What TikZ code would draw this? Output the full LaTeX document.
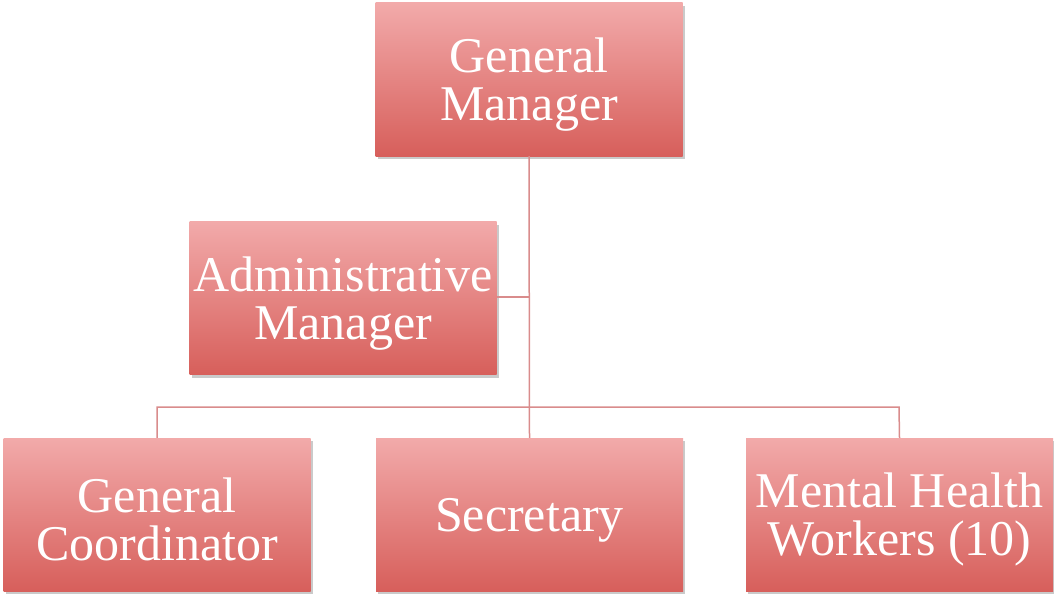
\documentclass[tikz,border=0pt]{standalone}
\usepackage{fontspec}
\setmainfont{Liberation Serif}
\usetikzlibrary{shadows}
\definecolor{boxtop}{HTML}{F2AAAA}
\definecolor{boxbot}{HTML}{D75F5B}
\definecolor{linec}{HTML}{D98C8C}
\newcommand{\tstrut}{\rule{0pt}{45pt}}
\tikzset{
  orgbox/.style={rectangle, minimum width=307pt, minimum height=153pt, inner sep=0pt,
    top color=boxtop, bottom color=boxbot, draw=none,
    drop shadow={shadow xshift=2pt, shadow yshift=-3pt, opacity=0.35, fill=black!60},
    text=white, align=center,
    font=\fontsize{50}{48}\selectfont},
  conn/.style={draw=linec, line width=1.5pt}
}
\begin{document}
\begin{tikzpicture}[x=1pt,y=-1pt]
\useasboundingbox (0,0) rectangle (1054,594);
\node[orgbox] (gm) at (529,79.5) {\tstrut General\\Manager};
\node[orgbox] (am) at (343,298) {\tstrut Administrative\\Manager};
\node[orgbox] (gc) at (157,514.5) {\tstrut General\\Coordinator};
\node[orgbox] (sec) at (529.5,514.5) {\tstrut Secretary};
\node[orgbox] (mhw) at (899.5,514.5) {\tstrut Mental Health\\Workers (10)};
\coordinate (busL) at (157,407);
\coordinate (busR) at (899,407);
\coordinate (amj) at (529,297);
\draw[conn] (gm.south) -- (sec.north);
\draw[conn] (am.east |- amj) -- (amj);
\draw[conn] (gc.north) -- (busL) -- (busR) -- (mhw.north);
\end{tikzpicture}
\end{document}
